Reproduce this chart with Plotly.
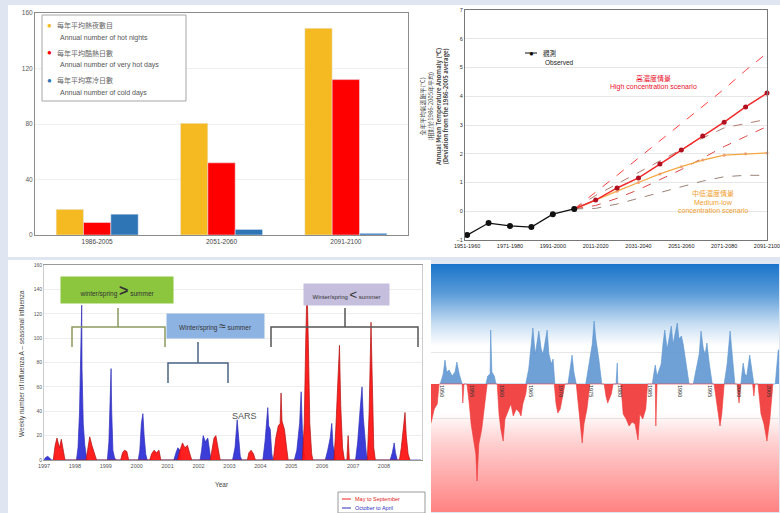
import base64
import plotly.graph_objects as go

W, H = 780, 513
def X(p): return p / W
def Y(p): return 1 - p / H

FONT = "Liberation Sans, Noto Sans CJK TC, sans-serif"
CJK = "Noto Sans CJK TC, Liberation Sans, sans-serif"

# ---------------- Panel 1: hot nights / very hot days / cold days ----------------
periods = ["1986-2005", "2051-2060", "2091-2100"]
hot_nights = [18.5, 80.5, 149]
very_hot_days = [9, 52, 112]
cold_days = [15, 4, 1.2]
bar_names_zh = ["每年平均熱夜數目", "每年平均酷熱日數", "每年平均寒冷日數"]
bar_names_en = ["Annual number of hot nights", "Annual number of very hot days",
                "Annual number of cold days"]
bar_colors = ["#f5b921", "#ff0000", "#2e75b6"]

# ---------------- Panel 2: annual mean temperature anomaly ----------------
decades = ["1951-1960", "1961-1970", "1971-1980", "1981-1990", "1991-2000",
           "2001-2010", "2011-2020", "2021-2030", "2031-2040", "2041-2050",
           "2051-2060", "2061-2070", "2071-2080", "2081-2090", "2091-2100"]
observed = [-0.83, -0.41, -0.51, -0.55, -0.10, 0.08] + [None] * 9
high_mid = [None] * 5 + [0.08, 0.39, 0.81, 1.16, 1.64, 2.13, 2.62, 3.10, 3.63, 4.11]
high_upper = [None] * 5 + [0.08, 0.65, 1.25, 1.85, 2.45, 3.05, 3.65, 4.25, 4.9, 5.5]
high_lower = [None] * 5 + [0.08, 0.2, 0.45, 0.75, 1.1, 1.45, 1.85, 2.25, 2.6, 2.95]
ml_mid = [None] * 5 + [0.08, 0.4, 0.7, 1.0, 1.3, 1.55, 1.78, 1.95, 2.0, 2.03]
ml_upper = [None] * 5 + [0.08, 0.55, 0.95, 1.35, 1.75, 2.15, 2.55, 2.9, 3.05, 3.2]
ml_lower = [None] * 5 + [0.08, 0.1, 0.25, 0.45, 0.65, 0.85, 1.05, 1.2, 1.25, 1.25]

# ---------------- Panel 3: weekly influenza A ----------------
flu_years = list(range(1997, 2009))
flu_blue_x = [1997.0, 1997.05, 1997.12, 1997.2, 1997.25,
              1998.05, 1998.1, 1998.15, 1998.19, 1998.22, 1998.23, 1998.27, 1998.32, 1998.37, 1998.42,
              1999.05, 1999.1, 1999.14, 1999.17, 1999.19, 1999.23, 1999.28, 1999.33,
              2000.05, 2000.1, 2000.15, 2000.2, 2000.24, 2000.29, 2000.34,
              2001.2, 2001.27, 2001.33, 2001.4, 2001.45,
              2002.05, 2002.1, 2002.15, 2002.22, 2002.3, 2002.36, 2002.4,
              2003.1, 2003.18, 2003.25, 2003.29, 2003.35, 2003.4,
              2004.08, 2004.15, 2004.24, 2004.27, 2004.32, 2004.37, 2004.41,
              2005.1, 2005.18, 2005.27, 2005.32, 2005.36, 2005.42, 2005.46,
              2006.1, 2006.18, 2006.26, 2006.31, 2006.35, 2006.42, 2006.46,
              2007.08, 2007.15, 2007.23, 2007.29, 2007.33, 2007.37, 2007.43, 2007.48,
              2008.2, 2008.27, 2008.33, 2008.37, 2008.43, 2009.2]
flu_blue_y = [0, 2, 3, 1, 0,
              0, 10, 40, 80, 127, 75, 30, 12, 3, 0,
              0, 15, 55, 75, 40, 8, 2, 0,
              0, 8, 30, 38, 20, 5, 0,
              0, 6, 10, 8, 0,
              0, 8, 20, 15, 18, 5, 0,
              0, 10, 33, 18, 3, 0,
              0, 15, 43, 28, 25, 5, 0,
              0, 8, 30, 56, 25, 5, 0,
              0, 8, 18, 30, 12, 3, 0,
              0, 15, 42, 60, 35, 22, 5, 0,
              0, 6, 14, 6, 0, 0]
flu_red_x = [1997.3, 1997.36, 1997.42, 1997.5, 1997.56, 1997.62, 1997.68,
             1998.36, 1998.42, 1998.48, 1998.55, 1998.62, 1998.7,
             1999.48, 1999.54, 1999.6, 1999.68, 1999.74,
             2000.42, 2000.48, 2000.56, 2000.64, 2000.72, 2000.78,
             2001.32, 2001.4, 2001.48, 2001.56, 2001.64, 2001.72, 2001.78,
             2002.38, 2002.44, 2002.5, 2002.56, 2002.62, 2002.7,
             2003.58, 2003.63, 2003.7, 2003.78, 2003.84,
             2004.42, 2004.5, 2004.58, 2004.64, 2004.67, 2004.7, 2004.78, 2004.86, 2004.9,
             2005.36, 2005.42, 2005.47, 2005.51, 2005.55, 2005.6, 2005.66, 2005.7,
             2006.38, 2006.44, 2006.5, 2006.56, 2006.6, 2006.66, 2006.72, 2006.8, 2006.84, 2006.88,
             2007.46, 2007.52, 2007.58, 2007.62, 2007.67, 2007.72,
             2008.5, 2008.56, 2008.62, 2008.68, 2008.72, 2008.78, 2008.84]
flu_red_y = [0, 12, 18, 10, 17, 8, 0,
             0, 10, 19, 12, 6, 0,
             0, 6, 8, 7, 0,
             0, 5, 8, 6, 8, 0,
             0, 8, 14, 10, 12, 5, 0,
             0, 10, 18, 20, 10, 0,
             0, 6, 8, 5, 0,
             0, 18, 28, 30, 55, 32, 25, 8, 0,
             0, 30, 100, 143, 100, 30, 5, 0,
             0, 25, 60, 94, 45, 10, 0, 0, 20, 0,
             0, 40, 113, 60, 10, 0,
             0, 10, 25, 39, 20, 5, 0]
flu_series_names = ["May to September", "October to April"]

# ---------------- Panel 4: index above / below zero ----------------
index_years = list(range(1950, 2010, 5))
idx_pos_x = [1949.7, 1950.2, 1950.5, 1950.8, 1951.2, 1951.7, 1952.2, 1952.5, 1952.9, 1953.4,
             1957.4, 1957.7, 1958.1, 1958.2, 1958.4, 1958.8, 1959.1,
             1964.1, 1964.6, 1965.0, 1965.3, 1965.7, 1966.0, 1966.3, 1966.7, 1967.0, 1967.3, 1967.7,
             1968.0, 1968.4, 1968.7, 1969.0,
             1971.2, 1971.5, 1971.9, 1972.2, 1972.6,
             1974.2, 1974.7, 1975.3, 1975.6, 1975.9, 1976.4, 1976.9,
             1979.3, 1979.5, 1979.6,
             1985.4, 1985.7, 1985.9, 1986.2, 1986.6, 1986.9, 1987.2, 1987.5, 1987.9, 1988.2, 1988.6,
             1988.9, 1989.2, 1989.6, 1989.9, 1990.3, 1990.6, 1991.1, 1991.6,
             1992.3, 1992.8, 1993.3, 1993.6, 1994.0, 1994.3, 1994.6, 1995.0, 1995.5,
             1997.5, 1998.0, 1998.5, 1998.8, 1999.3,
             2000.3, 2000.7, 2001.0, 2001.3, 2001.8, 2002.2, 2002.5,
             2006.1, 2006.6, 2006.73]
idx_pos_y = [0, 10, 24, 12, 14, 8, 12, 22, 10, 0,
             0, 8, 10, 54, 12, 8, 0,
             0, 15, 35, 56, 30, 40, 53, 35, 30, 40, 54, 30, 20, 25, 0,
             0, 15, 29, 12, 0,
             0, 20, 40, 63, 45, 25, 0,
             0, 21, 0,
             0, 12, 19, 8, 15, 20, 40, 54, 35, 45, 58, 40, 50, 61, 45, 48, 40, 20, 0,
             0, 15, 30, 53, 35, 30, 41, 20, 0,
             0, 20, 53, 30, 0,
             0, 21, 10, 8, 29, 12, 0,
             0, 34, 34]
idx_neg_x = [1948.15, 1948.7, 1949.2, 1949.5,
             1953.4, 1953.5, 1953.7,
             1954.2, 1954.6, 1954.9, 1955.4, 1955.7, 1955.9, 1956.2, 1956.7, 1957.2, 1957.6,
             1959.3, 1959.6, 1959.9, 1960.3, 1960.6, 1961.1, 1961.6, 1962.0, 1962.5, 1963.0, 1963.3,
             1963.6, 1964.1, 1964.3,
             1968.9, 1969.2, 1969.5, 1969.9, 1970.4, 1970.7,
             1972.6, 1972.9, 1973.2, 1973.6, 1973.9, 1974.4, 1974.9,
             1977.3, 1977.6, 1977.9, 1978.5, 1978.8,
             1980.1, 1980.5, 1981.0, 1981.5, 1982.0, 1982.5, 1983.0, 1983.3, 1983.8, 1984.3, 1984.6,
             1985.9, 1986.0, 1986.2,
             1995.8, 1996.3, 1996.8, 1997.1, 1997.5,
             1999.7, 2000.0, 2000.3,
             2002.3, 2002.5, 2002.7,
             2003.2, 2003.7, 2004.2, 2004.7, 2005.2, 2005.7]
idx_neg_y = [-39, -25, -20, 0,
             0, -19, 0,
             0, -20, -40, -59, -70, -97, -60, -45, -20, 0,
             0, -30, -45, -57, -35, -28, -20, -32, -25, -28, -32, -20, -10, 0,
             0, -20, -29, -25, -10, 0,
             0, -20, -35, -59, -40, -25, 0,
             0, -12, -19, -10, 0,
             0, -30, -35, -42, -38, -40, -56, -30, -35, -25, 0,
             0, -42, 0,
             0, -20, -42, -30, 0,
             0, -19, 0,
             0, -12, 0,
             0, -30, -40, -57, -35, 0]

fig = go.Figure()

# ---- Panel 1 traces
for vals, name, col in zip([hot_nights, very_hot_days, cold_days], bar_names_en, bar_colors):
    fig.add_trace(go.Bar(x=periods, y=vals, marker_color=col, showlegend=False,
                         xaxis="x", yaxis="y", name=name))

# ---- Panel 2 traces
dash_specs = [(high_upper, "#ff4040"), (high_lower, "#e04848"),
              (ml_upper, "#b07a70"), (ml_lower, "#9a8478")]
for vals, col in dash_specs:
    fig.add_trace(go.Scatter(x=decades, y=vals, mode="lines", showlegend=False,
                             line=dict(color=col, width=1, dash="dash"),
                             xaxis="x2", yaxis="y2", cliponaxis=False))
fig.add_trace(go.Scatter(x=decades, y=ml_mid, mode="lines+markers", showlegend=False,
                         line=dict(color="#f5a742", width=1.2),
                         marker=dict(color="#f0a070", size=3),
                         xaxis="x2", yaxis="y2", cliponaxis=False))
fig.add_trace(go.Scatter(x=decades, y=high_mid, mode="lines+markers", showlegend=False,
                         line=dict(color="#f02a2a", width=1.5),
                         marker=dict(color="#b01020", size=5),
                         xaxis="x2", yaxis="y2", cliponaxis=False))
fig.add_trace(go.Scatter(x=decades, y=observed, mode="lines+markers", showlegend=False,
                         line=dict(color="#111111", width=1.2),
                         marker=dict(color="#111111", size=6),
                         xaxis="x2", yaxis="y2", cliponaxis=False))

# ---- Panel 3 traces
fig.add_trace(go.Scatter(x=flu_blue_x, y=flu_blue_y, mode="lines", fill="tozeroy",
                         line=dict(color="#2f2fb8", width=0.7), fillcolor="rgba(50,50,215,0.95)",
                         showlegend=False, name=flu_series_names[1], xaxis="x3", yaxis="y3"))
fig.add_trace(go.Scatter(x=flu_red_x, y=flu_red_y, mode="lines", fill="tozeroy",
                         line=dict(color="#b01010", width=0.7), fillcolor="rgba(255,20,20,0.95)",
                         showlegend=False, name=flu_series_names[0], xaxis="x3", yaxis="y3"))

# ---- Panel 4 traces
fig.add_trace(go.Scatter(x=idx_pos_x, y=idx_pos_y, mode="lines", fill="tozeroy",
                         line=dict(color="#5d95d0", width=0.6), fillcolor="rgba(95,150,210,0.9)",
                         showlegend=False, xaxis="x4", yaxis="y4"))
fig.add_trace(go.Scatter(x=idx_neg_x, y=idx_neg_y, mode="lines", fill="tozeroy",
                         line=dict(color="#ee3a3a", width=0.6), fillcolor="rgba(240,55,55,0.92)",
                         showlegend=False, xaxis="x4", yaxis="y4"))

# ---- gradient background for panel 4
svg = ('<svg xmlns="http://www.w3.org/2000/svg" width="100" height="100" preserveAspectRatio="none">'
       '<defs><linearGradient id="g" x1="0" y1="0" x2="0" y2="1">'
       '<stop offset="0" stop-color="#1a74cb"/>'
       '<stop offset="0.12" stop-color="#5b9cd8"/>'
       '<stop offset="0.24" stop-color="#c6ddf2"/>'
       '<stop offset="0.33" stop-color="#ffffff"/>'
       '<stop offset="0.6" stop-color="#ffffff"/>'
       '<stop offset="0.72" stop-color="#ffd0d0"/>'
       '<stop offset="1" stop-color="#ff8282"/>'
       '</linearGradient></defs><rect width="100" height="100" fill="url(#g)"/></svg>')
svg_uri = "data:image/svg+xml;base64," + base64.b64encode(svg.encode()).decode()

shapes = [
    dict(type="rect", xref="paper", yref="paper", x0=X(8), x1=X(780), y0=Y(257), y1=Y(5),
         fillcolor="white", line_width=0, layer="below"),
    dict(type="rect", xref="paper", yref="paper", x0=X(8), x1=X(431), y0=Y(513), y1=Y(260),
         fillcolor="white", line_width=0, layer="below"),
    # legend boxes
    dict(type="rect", xref="paper", yref="paper", x0=X(42), x1=X(186), y0=Y(101), y1=Y(15),
         fillcolor="white", line=dict(color="#a6a6a6", width=1)),
    dict(type="rect", xref="paper", yref="paper", x0=X(338), x1=X(425), y0=Y(513), y1=Y(492),
         fillcolor="white", line=dict(color="#999999", width=1)),
    dict(type="line", xref="paper", yref="paper", x0=X(342), x1=X(351), y0=Y(499), y1=Y(499),
         line=dict(color="#ff2020", width=1)),
    dict(type="line", xref="paper", yref="paper", x0=X(342), x1=X(351), y0=Y(508), y1=Y(508),
         line=dict(color="#3030c0", width=1)),
    # observed legend line
    dict(type="line", xref="paper", yref="paper", x0=X(525), x1=X(537), y0=Y(53), y1=Y(53),
         line=dict(color="#111111", width=1)),
]

def brace(x0, x1, ytop, yend, xs, ystem, color):
    pts = [(x0, yend), (x0, ytop), (x1, ytop), (x1, yend)]
    path = "M " + " L ".join(f"{X(a):.5f},{Y(b):.5f}" for a, b in pts)
    path += f" M {X(xs):.5f},{Y(ytop):.5f} L {X(xs):.5f},{Y(ystem):.5f}"
    return dict(type="path", xref="paper", yref="paper", path=path,
                line=dict(color=color, width=1.5))

shapes += [brace(72, 165, 327, 347, 118, 308, "#8a9a60"),
           brace(168, 228, 363, 383, 198, 342, "#4a6585"),
           brace(271, 418, 327, 347, 345, 308, "#555555")]

ann = []
def A(x, y, text, size, color="#333", **kw):
    d = dict(x=X(x), y=Y(y), xref="paper", yref="paper", text=text, showarrow=False,
             xanchor="center", yanchor="middle",
             font=dict(size=size, color=color, family=kw.pop("family", FONT)))
    d.update(kw)
    ann.append(d)

# panel 1 legend
for i, (zh, en, col) in enumerate(zip(bar_names_zh, bar_names_en, bar_colors)):
    y0 = 25 + 27.5 * i
    A(50, y0, "●", 8, col)
    A(55, y0, zh, 7, "#666", xanchor="left", family=CJK)
    A(58, y0 + 13, en, 7, "#555", xanchor="left")

# panel 3 legend
A(353, 499, flu_series_names[0], 5.5, "#e02020", xanchor="left")
A(353, 508, flu_series_names[1], 5.5, "#3030c0", xanchor="left")

# panel 2 text
A(434, 107, "全年平均氣溫距平(°C)<br>(相對於1986-2005年平均)<br><b>Annual Mean Temperature Anomaly (°C)</b><br><b>(Deviation from the 1986-2005 average)</b>",
  6, "#444", textangle=-90, family=CJK)
A(531, 53, "●", 8, "#111")
A(541, 53, "觀測", 6.5, "#222", xanchor="left", family=CJK)
A(543, 63, "Observed", 6.5, "#222", xanchor="left")
A(653, 78, "高濃度情景", 7, "#e8102a", family=CJK)
A(653, 87, "High concentration scenario", 7, "#e8102a")
A(713, 193, "中低濃度情景", 7, "#f0a030", family=CJK)
A(713, 202, "Medium-low", 7, "#f0a030")
A(713, 211, "concentration scenario", 7, "#f0a030")

# panel 3 text
A(117, 290, "winter/spring <span style='font-size:16px'><b>&gt;</b></span> summer", 6.5, "#333",
  bgcolor="#8cc63f", width=110, height=24)
A(215.5, 326, "Winter/spring <span style='font-size:12px'>≈</span> summer", 6.5, "#333",
  bgcolor="#8db3e2", width=95, height=22)
A(346.5, 294.5, "Winter/spring <span style='font-size:13px'>&lt;</span> summer", 6, "#333",
  bgcolor="#c5bedc", width=83, height=19)
A(244, 416, "SARS", 9, "#555")
A(22, 364, "Weekly number of influenza A – seasonal influenza", 6.5, "#444", textangle=-90)
A(222, 484, "Year", 6.5, "#444")

tickfont = dict(size=6.5, color="#595959", family=FONT)
layout = dict(
    width=W, height=H, margin=dict(l=0, r=0, t=0, b=0, autoexpand=False),
    paper_bgcolor="#dfe6f1", plot_bgcolor="white", font=dict(family=FONT),
    barmode="group", bargap=0.34, bargroupgap=0, showlegend=False,
    shapes=shapes, annotations=ann,
    images=[dict(source=svg_uri, xref="paper", yref="paper", x=X(431), y=Y(264),
                 sizex=X(779) - X(431), sizey=Y(264) - Y(512), xanchor="left", yanchor="top",
                 sizing="stretch", layer="below")],
    # panel 1
    xaxis=dict(domain=[X(35), X(408)], anchor="y", showline=True, linecolor="#8c8c8c",
               mirror=True, tickfont=dict(size=6.5, color="#444"), ticks=""),
    yaxis=dict(domain=[Y(235), Y(13)], anchor="x", range=[0, 160], tickvals=[0, 40, 80, 120, 160],
               showline=True, linecolor="#8c8c8c", mirror=True, gridcolor="#f0f0f0",
               tickfont=tickfont, zeroline=False),
    # panel 2
    xaxis2=dict(domain=[X(465), X(767)], anchor="y2", type="category", categoryarray=decades,
                range=[-0.1, 14.0], tickvals=decades[::2], showline=True, linecolor="#777",
                mirror=True, showgrid=False, tickfont=dict(size=5.5, color="#222"), ticks=""),
    yaxis2=dict(domain=[Y(240), Y(10)], anchor="x2", range=[-1, 7], dtick=1, showline=True,
                linecolor="#777", mirror=True, gridcolor="#e6e6e6", zeroline=False,
                tickfont=dict(size=5.5, color="#333")),
    # panel 3
    xaxis3=dict(domain=[X(44), X(422)], anchor="y3", range=[1997, 2009.23], tickvals=flu_years,
                showline=True, linecolor="#999", mirror=True, showgrid=False,
                tickfont=dict(size=5.5, color="#555"), ticks=""),
    yaxis3=dict(domain=[Y(460), Y(265)], anchor="x3", range=[0, 160], dtick=20, showline=True,
                linecolor="#ccc", mirror=True, gridcolor="#eeeeee", zeroline=False,
                tickfont=dict(size=5, color="#555")),
    # panel 4
    xaxis4=dict(domain=[X(431), X(779)], anchor="free", position=Y(384),
                range=[1948.15, 2006.73], tickvals=index_years, tickangle=90, showline=False,
                showgrid=False, zeroline=False, ticks="", tickfont=dict(size=5.5, color="#333")),
    yaxis4=dict(domain=[Y(512), Y(265)], anchor="x4", range=[-128, 119], visible=True,
                showticklabels=False, tickvals=[-34, 32], gridcolor="rgba(220,220,220,0.7)",
                zeroline=False, showline=False),
)
fig.update_layout(**layout)

fig.write_html("out.html", config={"displayModeBar": False},
               post_script="document.body.style.margin='0';document.body.style.overflow='hidden';")
